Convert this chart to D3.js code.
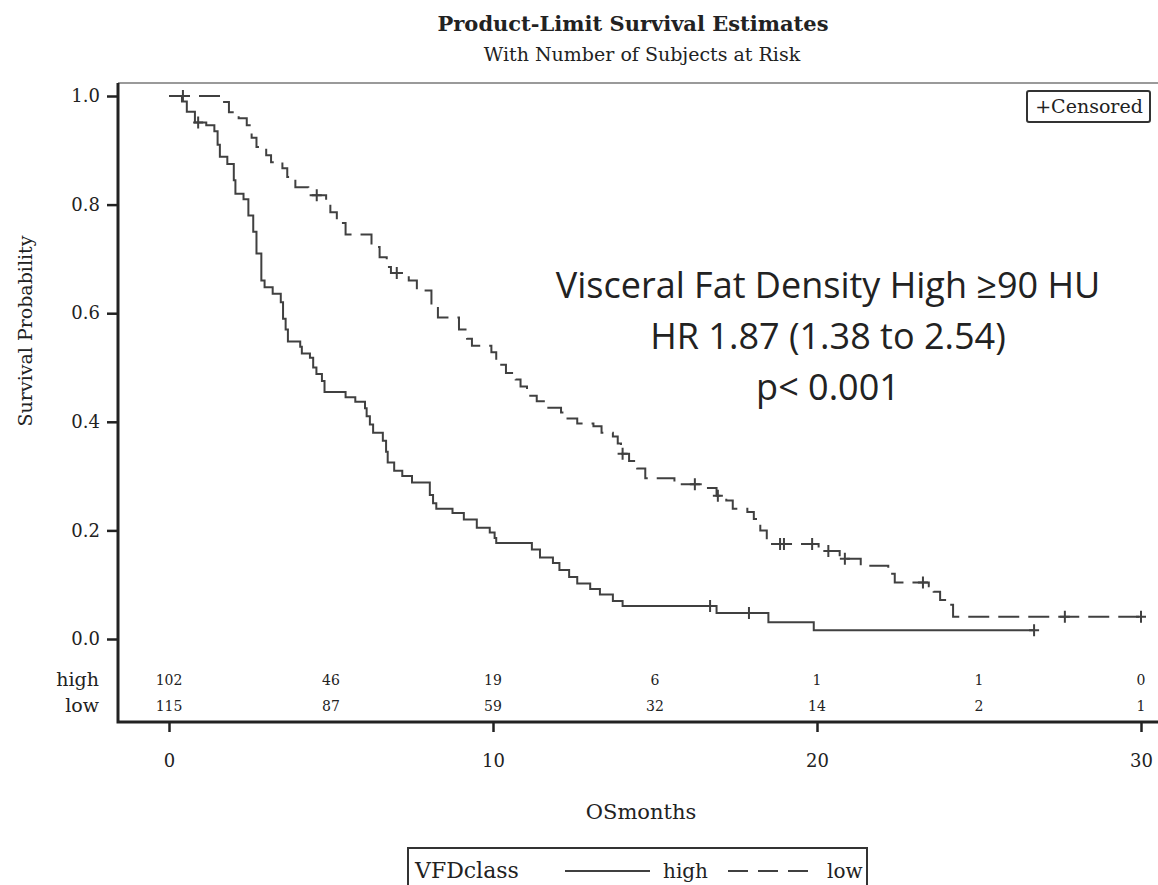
<!DOCTYPE html>
<html>
<head>
<meta charset="utf-8">
<script src="https://cdn.jsdelivr.net/npm/d3@7"></script>
<style>
  html, body { margin: 0; padding: 0; background: #fff; }
  svg { display: block; }
  .serif { font-family: "DejaVu Serif", "Liberation Serif", serif; fill: #222; }
</style>
</head>
<body>
<svg id="chart" width="1158" height="885"></svg>
<script>
// Kaplan-Meier step estimates, VFD class "high": event times (months) and survival after each event
const highTimes = [0.4, 0.55, 0.8, 1.15, 1.4, 1.5, 1.57, 1.8, 2.0, 2.05, 2.3, 2.45, 2.6, 2.7, 2.85, 2.95,
  3.2, 3.45, 3.52, 3.6, 3.67, 4.05, 4.1, 4.35, 4.45, 4.55, 4.72, 4.8, 5.45, 5.75, 6.05, 6.1, 6.2, 6.3,
  6.6, 6.7, 6.75, 6.95, 7.2, 7.5, 8.05, 8.15, 8.25, 8.75, 9.1, 9.5, 9.9, 10.05, 10.1, 11.2, 11.45,
  11.85, 12.05, 12.35, 12.6, 13.0, 13.3, 13.7, 14.0, 16.9, 18.5, 19.9];
const highSurv = [0.990, 0.971, 0.951, 0.946, 0.935, 0.91, 0.888, 0.875, 0.845, 0.82, 0.81, 0.78, 0.75, 0.71, 0.66, 0.648,
  0.636, 0.62, 0.59, 0.57, 0.548, 0.538, 0.526, 0.518, 0.5, 0.488, 0.475, 0.455, 0.445, 0.437, 0.425, 0.41, 0.395, 0.38,
  0.365, 0.345, 0.325, 0.31, 0.3, 0.288, 0.265, 0.25, 0.24, 0.232, 0.22, 0.205, 0.196, 0.186, 0.177, 0.165, 0.15,
  0.14, 0.127, 0.114, 0.102, 0.092, 0.082, 0.07, 0.061, 0.048, 0.031, 0.016];
const highLastTime = 26.7;
const highCensTimes = [0.9, 16.7, 17.9, 26.7];
const highCensSurv = [0.951, 0.061, 0.048, 0.016];

// VFD class "low"
const lowTimes = [1.7, 1.85, 2.15, 2.4, 2.55, 2.7, 3.0, 3.15, 3.5, 3.65, 3.9, 4.3, 4.85, 4.98, 5.18, 5.45,
  6.25, 6.5, 6.72, 6.85, 7.4, 7.65, 8.1, 8.3, 8.95, 9.2, 9.35, 9.95, 10.1, 10.4, 10.7, 10.85, 11.05, 11.35,
  11.65, 12.1, 12.3, 12.6, 13.1, 13.35, 13.7, 13.85, 13.95, 14.2, 14.45, 14.7, 15.6, 16.55, 16.9, 17.2,
  17.4, 17.85, 18.05, 18.25, 18.45, 20.05, 20.7, 21.35, 22.2, 22.4, 23.45, 23.6, 23.8, 24.0, 24.2];
const lowSurv = [0.989, 0.97, 0.959, 0.946, 0.923, 0.906, 0.891, 0.878, 0.867, 0.851, 0.832, 0.817, 0.808, 0.786, 0.766, 0.745,
  0.722, 0.703, 0.685, 0.674, 0.66, 0.642, 0.615, 0.592, 0.57, 0.553, 0.54, 0.528, 0.505, 0.49, 0.478, 0.465, 0.448, 0.438,
  0.426, 0.417, 0.406, 0.397, 0.392, 0.38, 0.373, 0.36, 0.341, 0.328, 0.314, 0.296, 0.285, 0.278, 0.264, 0.255,
  0.24, 0.234, 0.221, 0.2, 0.175, 0.162, 0.148, 0.135, 0.12, 0.104, 0.097, 0.087, 0.072, 0.063, 0.041];
const lowLastTime = 30.0;
const lowCensTimes = [0.43, 4.56, 7.03, 14.0, 16.23, 16.94, 18.86, 18.98, 19.85, 20.35, 20.86, 23.27, 27.65, 30.0];
const lowCensSurv = [1.0, 0.817, 0.674, 0.341, 0.285, 0.264, 0.175, 0.175, 0.175, 0.162, 0.148, 0.104, 0.041, 0.041];

// Number at risk table
const riskTimes = [0, 5, 10, 15, 20, 25, 30];
const riskHigh = [102, 46, 19, 6, 1, 1, 0];
const riskLow = [115, 87, 59, 32, 14, 2, 1];

const xTicks = [0, 10, 20, 30];
const yTicks = [0, 0.2, 0.4, 0.6, 0.8, 1.0];

const svg = d3.select("#chart");
const x = d3.scaleLinear().domain([0, 30]).range([169, 1141]);
const y = d3.scaleLinear().domain([0, 1]).range([639, 96]);

const ink = "#222";
const curveInk = "#404040";

// Titles
svg.append("text").attr("class", "serif").attr("x", 633).attr("y", 31)
  .attr("text-anchor", "middle").attr("font-size", 21).attr("font-weight", "bold")
  .text("Product-Limit Survival Estimates");
svg.append("text").attr("class", "serif").attr("x", 642).attr("y", 61)
  .attr("text-anchor", "middle").attr("font-size", 19)
  .text("With Number of Subjects at Risk");

// Plot frame top edge
svg.append("line").attr("x1", 118).attr("x2", 1158).attr("y1", 83).attr("y2", 83)
  .attr("stroke", "#9a9a9a").attr("stroke-width", 2);

// Axes
const yAxis = svg.append("g").attr("transform", "translate(118,0)")
  .call(d3.axisLeft(y).tickValues(yTicks).tickFormat(d3.format(".1f")).tickSize(11).tickPadding(7));
const xAxis = svg.append("g").attr("transform", "translate(0,722)")
  .call(d3.axisBottom(x).tickValues(xTicks).tickFormat(d3.format("d")).tickSize(10).tickPadding(22));
[yAxis, xAxis].forEach(g => {
  g.select(".domain").remove();
  g.selectAll(".tick line").attr("stroke", ink).attr("stroke-width", 2.5);
  g.selectAll(".tick text").attr("class", "serif").attr("font-size", 18).attr("fill", ink);
});
svg.append("path").attr("d", "M118,83 V722 H1158")
  .attr("fill", "none").attr("stroke", ink).attr("stroke-width", 3);

// Axis titles
svg.append("text").attr("class", "serif").attr("font-size", 19)
  .attr("text-anchor", "middle")
  .attr("transform", "translate(32,331) rotate(-90)")
  .text("Survival Probability");
svg.append("text").attr("class", "serif").attr("font-size", 21)
  .attr("x", 641).attr("y", 819).attr("text-anchor", "middle")
  .text("OSmonths");

// Survival curves
const line = d3.line().x(d => x(d[0])).y(d => y(d[1])).curve(d3.curveStepAfter);
function stepPoints(times, surv, lastTime) {
  const pts = [[0, 1]];
  times.forEach((t, i) => pts.push([t, surv[i]]));
  pts.push([lastTime, surv[surv.length - 1]]);
  return pts;
}
svg.append("path").attr("d", line(stepPoints(highTimes, highSurv, highLastTime)))
  .attr("fill", "none").attr("stroke", curveInk).attr("stroke-width", 2);
svg.append("path").attr("d", line(stepPoints(lowTimes, lowSurv, lowLastTime)))
  .attr("fill", "none").attr("stroke", curveInk).attr("stroke-width", 2)
  .attr("stroke-dasharray", "21,9");

// Censoring marks
function censorMarks(times, surv) {
  svg.append("g").selectAll("path").data(times.map((t, i) => [t, surv[i]])).join("path")
    .attr("d", d => `M${x(d[0]) - 5},${y(d[1])} h10 M${x(d[0])},${y(d[1]) - 6} v12`)
    .attr("stroke", curveInk).attr("stroke-width", 2).attr("fill", "none");
}
censorMarks(highCensTimes, highCensSurv);
censorMarks(lowCensTimes, lowCensSurv);

// Censored legend
svg.append("rect").attr("x", 1027).attr("y", 91).attr("width", 123).attr("height", 31)
  .attr("rx", 2).attr("fill", "#fff").attr("stroke", "#333").attr("stroke-width", 2);
svg.append("text").attr("class", "serif").attr("font-size", 19)
  .attr("x", 1089).attr("y", 113).attr("text-anchor", "middle").text("+Censored");

// Number at risk
const riskRows = [{ label: "high", values: riskHigh, yPos: 686 }, { label: "low", values: riskLow, yPos: 712 }];
riskRows.forEach(r => {
  svg.append("text").attr("class", "serif").attr("font-size", 19)
    .attr("x", 99).attr("y", r.yPos).attr("text-anchor", "end").text(r.label);
  svg.append("g").selectAll("text").data(riskTimes).join("text")
    .attr("class", "serif").attr("font-size", 14)
    .attr("x", d => x(d)).attr("y", r.yPos - 1).attr("text-anchor", "middle")
    .text((d, i) => r.values[i]);
});

// Annotation
const note = svg.append("text").attr("font-family", "'Open Sans', Lato, sans-serif")
  .attr("font-size", 36).attr("fill", "#222").attr("text-anchor", "middle");
["Visceral Fat Density High \u226590 HU", "HR 1.87 (1.38 to 2.54)", "p< 0.001"].forEach((s, i) => {
  note.append("tspan").attr("x", 828).attr("y", 298 + i * 51).text(s);
});

// Group legend
svg.append("rect").attr("x", 408).attr("y", 848).attr("width", 459).attr("height", 50)
  .attr("fill", "#fff").attr("stroke", "#333").attr("stroke-width", 2);
svg.append("text").attr("class", "serif").attr("font-size", 22)
  .attr("x", 415).attr("y", 878).text("VFDclass");
svg.append("line").attr("x1", 565).attr("x2", 650).attr("y1", 871).attr("y2", 871)
  .attr("stroke", curveInk).attr("stroke-width", 2);
svg.append("text").attr("class", "serif").attr("font-size", 20)
  .attr("x", 663).attr("y", 878).text("high");
svg.append("line").attr("x1", 728).attr("x2", 808).attr("y1", 871).attr("y2", 871)
  .attr("stroke", curveInk).attr("stroke-width", 2).attr("stroke-dasharray", "20,10");
svg.append("text").attr("class", "serif").attr("font-size", 20)
  .attr("x", 827).attr("y", 878).text("low");
</script>
</body>
</html>
